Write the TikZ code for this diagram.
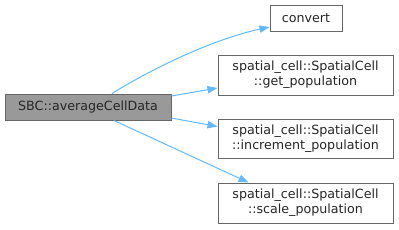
\documentclass[tikz,border=0pt]{standalone}
\usepackage{fontspec}
\setmainfont{DejaVu Sans}
\usetikzlibrary{calc,arrows.meta}
\definecolor{edgeblue}{HTML}{63B8FF}
\definecolor{boxborder}{HTML}{666666}
\definecolor{curfill}{HTML}{999999}
\tikzset{
  fnbox/.style={draw=boxborder, line width=0.75pt, fill=white, inner sep=0pt, align=center,
    font=\fontsize{9.5pt}{11.2pt}\selectfont, text=black!85},
  curbox/.style={fnbox, fill=curfill},
  calledge/.style={draw=edgeblue, line width=0.75pt, -{Triangle[length=7.5pt,width=5.5pt]}}
}
\begin{document}
\begin{tikzpicture}[x=0.75pt,y=-0.75pt]
\useasboundingbox (0,0) rectangle (399,229);
\node[curbox, minimum width=166*0.75pt, minimum height=26*0.75pt] (L) at (88,107) {SBC::averageCellData};
\node[fnbox, minimum width=72*0.75pt, minimum height=26*0.75pt] (C) at (306,18) {convert};
\node[fnbox, minimum width=175*0.75pt, minimum height=40*0.75pt] (G) at (305.5,75) {spatial\_cell::SpatialCell\\::get\_population};
\node[fnbox, minimum width=175*0.75pt, minimum height=39*0.75pt] (I) at (305.5,138.5) {spatial\_cell::SpatialCell\\::increment\_population};
\node[fnbox, minimum width=175*0.75pt, minimum height=40*0.75pt] (S) at (305.5,203) {spatial\_cell::SpatialCell\\::scale\_population};
\draw[calledge] ($(L.north)+(24,0)$) .. controls (150,70) and (210,40) .. ($(C.west)+(0,9)$);
\draw[calledge] ($(L.east)+(0,-11)$) -- ($(G.west)+(0,13)$);
\draw[calledge] ($(L.east)+(0,11)$) -- ($(I.west)+(0,-12)$);
\draw[calledge] ($(L.south)+(26,0)$) -- ($(S.north)+(-57,0)$);
\end{tikzpicture}
\end{document}
